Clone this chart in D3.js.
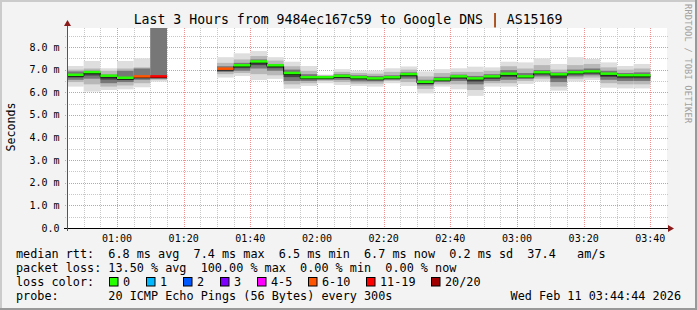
<!DOCTYPE html>
<html><head><meta charset="utf-8">
<script src="https://cdn.jsdelivr.net/npm/d3@7"></script>
<style>
body{margin:0;background:#f3f3f3;overflow:hidden}
svg text{font-family:"DejaVu Sans Mono",monospace}
</style>
</head><body>
<svg id="c" width="697" height="310"></svg>
<script>
// ---- data ----
const stepTimes = ["00:45","00:50","00:55","01:00","01:05","01:10","01:15","01:20","01:25",
  "01:30","01:35","01:40","01:45","01:50","01:55","02:00","02:05","02:10","02:15","02:20",
  "02:25","02:30","02:35","02:40","02:45","02:50","02:55","03:00","03:05","03:10","03:15",
  "03:20","03:25","03:30","03:35"];
const minV = [6.25,6.03,6.10,6.13,6.22,6.47,null,null,null,
  6.65,6.72,6.54,6.59,6.16,6.28,6.40,6.32,6.28,6.25,6.40,6.28,5.95,6.25,6.13,5.84,6.25,6.25,6.37,6.47,6.07,6.47,6.54,6.20,6.17,6.17];
const p10 = [6.45,6.35,6.25,6.30,6.40,6.55,null,null,null,
  6.80,6.85,6.80,6.75,6.35,6.40,6.50,6.45,6.38,6.38,6.50,6.45,6.15,6.35,6.35,6.10,6.40,6.40,6.50,6.60,6.25,6.60,6.65,6.40,6.35,6.35];
const p25 = [6.55,6.60,6.40,6.45,6.55,6.60,null,null,null,
  6.90,6.95,7.05,6.95,6.50,6.50,6.55,6.55,6.48,6.48,6.55,6.60,6.30,6.45,6.50,6.35,6.50,6.55,6.60,6.70,6.45,6.70,6.75,6.55,6.50,6.50];
const median = [6.76,6.88,6.72,6.63,6.69,6.69,null,null,null,
  7.03,7.18,7.35,7.18,6.84,6.65,6.65,6.71,6.65,6.60,6.65,6.79,6.45,6.56,6.69,6.60,6.69,6.81,6.69,6.87,6.78,6.87,6.91,6.81,6.74,6.74];
const p75 = [6.92,6.95,6.78,6.95,7.05,8.84,null,null,null,
  7.15,7.30,7.45,7.25,7.00,6.80,6.72,6.80,6.75,6.72,6.75,6.88,6.55,6.68,6.78,6.72,6.80,6.98,6.85,6.98,6.88,7.00,7.05,6.95,6.85,6.88];
const p90 = [7.00,7.05,6.95,7.05,7.10,8.84,null,null,null,
  7.30,7.45,7.60,7.40,7.15,6.95,6.75,6.90,6.85,6.82,6.90,7.00,6.70,6.85,6.90,6.90,6.95,7.15,7.05,7.20,7.00,7.20,7.25,7.10,7.00,7.05];
const maxV = [7.16,7.38,7.06,7.38,7.50,8.84,null,null,null,
  7.55,7.72,7.82,7.55,7.35,7.16,6.78,7.02,6.96,6.96,7.06,7.14,6.92,7.02,7.06,7.13,7.10,7.35,7.32,7.50,7.25,7.55,7.47,7.32,7.16,7.25];
const lossCount = [0,0,0,0,8,15,20,20,20, 8,0,0,0,0,0,0,0,0,0,0,0,0,0,0,0,0,0,0,0,0,0,0,0,0,0];

const yTicks = [0,1,2,3,4,5,6,7,8];
const yTickLabels = ["0.0","1.0 m","2.0 m","3.0 m","4.0 m","5.0 m","6.0 m","7.0 m","8.0 m"];
const xTickTimes = ["01:00","01:20","01:40","02:00","02:20","02:40","03:00","03:20","03:40"];

const lossLabels = ["0","1","2","3","4-5","6-10","11-19","20/20"];
const lossColors = ["#26ff00","#00b8ff","#0059ff","#7e00ff","#ff00ff","#ff5500","#ff0000","#a10000"];

const title = "Last 3 Hours from 9484ec167c59 to Google DNS | AS15169";
const rttLine = "median rtt:  6.8 ms avg  7.4 ms max  6.5 ms min  6.7 ms now  0.2 ms sd  37.4   am/s";
const lossLine = "packet loss: 13.50 % avg  100.00 % max  0.00 % min  0.00 % now";
const lossColorLabel = "loss color:";
const probeLine = "probe:       20 ICMP Echo Pings (56 Bytes) every 300s";
const stampText = "Wed Feb 11 03:44:44 2026";

// ---- drawing ----
const svg = d3.select("#c");
const parseT = s => new Date(Date.UTC(2026,1,11,+s.slice(0,2),+s.slice(3,5)));
const X0 = 67, X1 = 667, Y0 = 228, Y1 = 28;
const x = d3.scaleUtc().domain([parseT("00:45"), parseT("03:45")]).range([X0, X1]);
const y = d3.scaleLinear().domain([0, 8.84]).range([Y0, Y1]);
const step = 5*60*1000;

svg.append("rect").attr("width",697).attr("height",310).attr("fill","#f3f3f3");
// 3D border
svg.append("rect").attr("x",0).attr("y",0).attr("width",697).attr("height",2).attr("fill","#cbcbcb");
svg.append("rect").attr("x",0).attr("y",0).attr("width",2).attr("height",310).attr("fill","#cbcbcb");
svg.append("rect").attr("x",695).attr("y",0).attr("width",2).attr("height",310).attr("fill","#999");
svg.append("rect").attr("x",0).attr("y",308).attr("width",697).attr("height",2).attr("fill","#999");

svg.append("rect").attr("x",X0).attr("y",Y1).attr("width",X1-X0).attr("height",Y0-Y1).attr("fill","#fff");

// grid
const g = svg.append("g");
const minorY = d3.range(0.5, 8.84, 0.5).filter(v => Math.abs(v - Math.round(v)) > 0.01);
g.selectAll(".my").data(minorY).join("line")
  .attr("x1",X0-2).attr("x2",X1+2).attr("y1",d=>Math.round(y(d))+0.5).attr("y2",d=>Math.round(y(d))+0.5)
  .attr("stroke","#c8c8c8").attr("stroke-dasharray","1,1");
const minorX = d3.utcMinute.every(5).range(parseT("00:50"), parseT("03:45")).filter(t => t.getUTCMinutes()%20 !== 0);
g.selectAll(".mx").data(minorX).join("line")
  .attr("y1",Y1).attr("y2",Y0+2).attr("x1",d=>Math.round(x(d))+0.5).attr("x2",d=>Math.round(x(d))+0.5)
  .attr("stroke","#c8c8c8").attr("stroke-dasharray","1,1");
g.selectAll(".My").data(yTicks.slice(1)).join("line")
  .attr("x1",X0-2).attr("x2",X1+2).attr("y1",d=>Math.round(y(d))+0.5).attr("y2",d=>Math.round(y(d))+0.5)
  .attr("stroke","#f09090").attr("stroke-dasharray","1,1");
g.selectAll(".Mx").data(xTickTimes).join("line")
  .attr("y1",Y1).attr("y2",Y0+2).attr("x1",d=>Math.round(x(parseT(d)))+0.5).attr("x2",d=>Math.round(x(parseT(d)))+0.5)
  .attr("stroke","#f09090").attr("stroke-dasharray","1,1");

// smoke
const steps = stepTimes.map((s,i)=>({t:parseT(s), i}))
  .filter(d => minV[d.i] !== null);
const bands = [[minV,maxV,"#dedede"],[p10,p90,"#b8b8b8"],[p25,p75,"#777777"]];
const sg = svg.append("g");
bands.forEach(([lo,hi,col]) => {
  sg.selectAll(null).data(steps).join("rect")
    .attr("x", d => x(d.t)).attr("width", d => x(new Date(+d.t+step)) - x(d.t))
    .attr("y", d => y(hi[d.i])).attr("height", d => y(lo[d.i]) - y(hi[d.i]))
    .attr("fill", col);
});
// dark core just below median
sg.selectAll(null).data(steps).join("rect")
  .attr("x", d => x(d.t)).attr("width", d => x(new Date(+d.t+step)) - x(d.t))
  .attr("y", d => y(median[d.i])).attr("height", d => Math.max(0, y((median[d.i]+p25[d.i])/2) - y(median[d.i])))
  .attr("fill", "#404040");

// black median step line
const lineData = [];
stepTimes.forEach((s,i)=>{
  const t = parseT(s);
  lineData.push({t, v: median[i]});
  lineData.push({t: new Date(+t+step), v: median[i]});
});
svg.append("path")
  .attr("d", d3.line().defined(d=>d.v!==null).x(d=>x(d.t)).y(d=>y(d.v)+1)(lineData))
  .attr("fill","none").attr("stroke","#000").attr("stroke-width",1);

const lossIdx = c => c===0?0:c===1?1:c===2?2:c===3?3:c<=5?4:c<=10?5:c<=19?6:7;
svg.append("g").selectAll("rect").data(steps).join("rect")
  .attr("x", d => x(d.t)).attr("width", d => x(new Date(+d.t+step)) - x(d.t))
  .attr("y", d => y(median[d.i]) - 1.5).attr("height", 2.5)
  .attr("fill", d => lossColors[lossIdx(lossCount[d.i])]);

// axes
svg.append("line").attr("x1",X0-3).attr("x2",X1+2).attr("y1",Y0+0.5).attr("y2",Y0+0.5).attr("stroke","#000");
svg.append("line").attr("x1",X0+0.5).attr("x2",X0+0.5).attr("y1",Y0+3).attr("y2",Y1-3).attr("stroke","#555");
svg.append("path").attr("d",`M${X1+1},${Y0-3}L${X1+7},${Y0+0.5}L${X1+1},${Y0+4}Z`).attr("fill","#8b1a1a");
svg.append("path").attr("d",`M${X0-3},${Y1-2}L${X0+0.5},${Y1-8}L${X0+4},${Y1-2}Z`).attr("fill","#8b1a1a");

// axis labels
svg.append("g").selectAll("text").data(yTicks).join("text")
  .attr("x",59.5).attr("y",d=>y(d)+3.5).attr("text-anchor","end")
  .attr("font-size","10px").attr("fill","#000").text((d,i)=>yTickLabels[i]);
svg.append("g").selectAll("text").data(xTickTimes).join("text")
  .attr("x",d=>x(parseT(d))).attr("y",241.5).attr("text-anchor","middle")
  .attr("font-size","10px").attr("fill","#000").text(d=>d);

svg.append("text").attr("x",348).attr("y",23.5).attr("text-anchor","middle")
  .attr("font-size","13.2px").attr("fill","#000").text(title);
svg.append("text").attr("transform","translate(15,127) rotate(-90)").attr("text-anchor","middle")
  .attr("font-size","11.6px").attr("fill","#000").text("Seconds");
svg.append("text").attr("transform","translate(684.5,4) rotate(90)").attr("text-anchor","start")
  .attr("font-size","8.6px").attr("fill","#a0a0a0").attr("letter-spacing","0.25px").text("RRDTOOL / TOBI OETIKER");

// legend
const LF = "11.8px";
const lt = (s, xx, yb, anchor) => svg.append("text").attr("x",xx).attr("y",yb)
  .attr("font-size",LF).attr("fill","#000").attr("text-anchor",anchor||"start")
  .style("white-space","pre").text(s);
lt(rttLine, 16, 258);
lt(lossLine, 16, 272);
lt(lossColorLabel, 16, 286);
const boxX = [109,146,183,220,257,308,366,431];
lossLabels.forEach((l,i)=>{
  svg.append("rect").attr("x",boxX[i]+0.5).attr("y",277.5).attr("width",8.5).attr("height",8.5)
    .attr("fill",lossColors[i]).attr("stroke","#000");
  lt(l, boxX[i]+14, 286);
});
lt(probeLine, 16, 300);
lt(stampText, 681, 300, "end");
</script>
</body></html>
